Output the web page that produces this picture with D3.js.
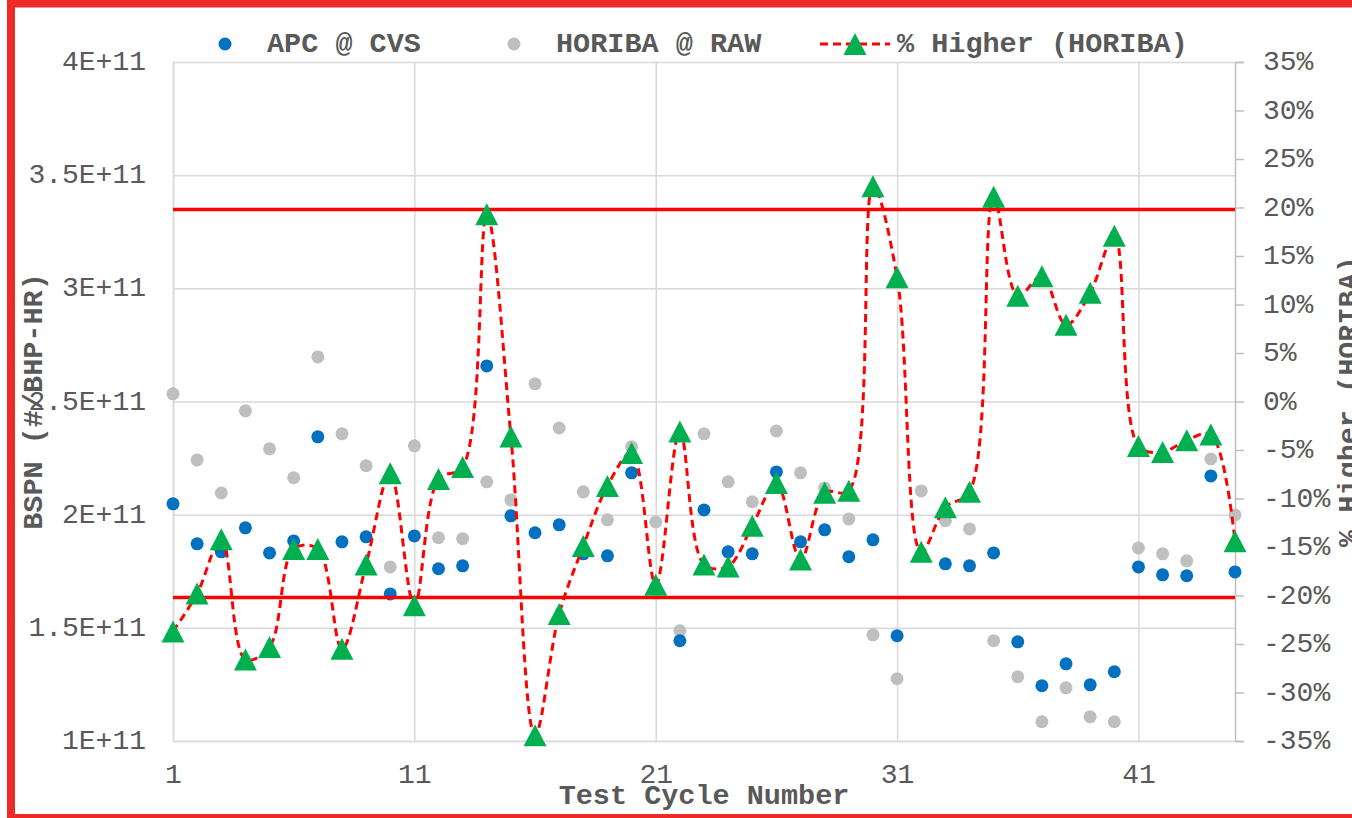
<!DOCTYPE html>
<html>
<head>
<meta charset="utf-8">
<script src="https://cdn.jsdelivr.net/npm/d3@7"></script>
<style>
  body { margin: 0; background: #fff; }
  svg { display: block; font-family: 'Liberation Mono', 'Courier New', monospace; }
  .tick text { fill: #595959; font-size: 28px; font-family: 'Liberation Mono', 'Courier New', monospace; }
  .title { fill: #595959; font-size: 28.5px; font-weight: bold; }
</style>
</head>
<body>
<svg width="1352" height="818"></svg>
<script>
const cycles = [1, 2, 3, 4, 5, 6, 7, 8, 9, 10, 11, 12, 13, 14, 15, 16, 17, 18, 19, 20, 21, 22, 23,
  24, 25, 26, 27, 28, 29, 30, 31, 32, 33, 34, 35, 36, 37, 38, 39, 40, 41, 42, 43, 44, 45];
// BSPN values, in units of 1E+11
const apcCvs = [2.048, 1.871, 1.836, 1.942, 1.831, 1.884, 2.344, 1.880, 1.902, 1.650, 1.906, 1.761,
  1.774, 2.657, 1.995, 1.920, 1.955, 1.827, 1.818, 2.185, 1.677, 1.443, 2.021, 1.836, 1.827, 2.189,
  1.880, 1.933, 1.814, 1.889, 1.465, 1.818, 1.783, 1.774, 1.831, 1.438, 1.244, 1.341, 1.248, 1.306,
  1.769, 1.734, 1.730, 2.171, 1.747];
const horibaRaw = [2.534, 2.242, 2.096, 2.459, 2.291, 2.163, 2.697, 2.357, 2.216, 1.769, 2.304, 1.898,
  1.894, 2.145, 2.065, 2.578, 2.383, 2.101, 1.977, 2.300, 1.968, 1.487, 2.357, 2.145, 2.057, 2.370,
  2.185, 2.118, 1.981, 1.469, 1.275, 2.105, 1.973, 1.937, 1.443, 1.284, 1.085, 1.235, 1.107, 1.085,
  1.853, 1.827, 1.796, 2.246, 1.999];
const pctHigher = [-23.7, -19.8, -14.2, -26.6, -25.3, -15.2, -15.2, -25.5, -16.8, -7.4, -21.0, -8.0,
  -6.75, 19.3, -3.6, -34.4, -21.9, -14.9, -8.7, -5.3, -18.9, -3.1, -16.8, -17.0, -12.8, -8.4, -16.3,
  -9.4, -9.2, 22.2, 12.8, -15.5, -10.9, -9.3, 21.1, 10.9, 12.9, 7.9, 11.2, 17.1, -4.6, -5.2, -4.0,
  -3.4, -14.4];
const limits = [19.8, -20.2];
const xTicks = [1, 11, 21, 31, 41];
const leftTicks = [1, 1.5, 2, 2.5, 3, 3.5, 4];
const rightTicks = [-35, -30, -25, -20, -15, -10, -5, 0, 5, 10, 15, 20, 25, 30, 35];

const m = { top: 62, right: 117, bottom: 77, left: 173 };
const W = 1352 - m.left - m.right;
const H = 818 - m.top - m.bottom;

const x = d3.scaleLinear().domain([1, 45]).range([0, W]);
const yL = d3.scaleLinear().domain([1, 4]).range([H, 0]);
const yR = d3.scaleLinear().domain([-35, 35]).range([H, 0]);

const svg = d3.select('svg');
const g = svg.append('g').attr('transform', `translate(${m.left},${m.top})`);

// grid
g.append('g')
  .call(d3.axisLeft(yL).tickValues(leftTicks).tickSize(-W).tickFormat(''))
  .call(s => s.select('.domain').remove())
  .selectAll('line').attr('stroke', '#d9d9d9').attr('stroke-width', 1.5);
g.append('g')
  .attr('transform', `translate(0,${H})`)
  .call(d3.axisBottom(x).tickValues(xTicks).tickSize(-H).tickFormat(''))
  .call(s => s.select('.domain').remove())
  .selectAll('line').attr('stroke', '#d9d9d9').attr('stroke-width', 1.5);

// axes
g.append('g')
  .call(d3.axisLeft(yL).tickValues(leftTicks).tickSize(0).tickPadding(27)
    .tickFormat(d => d + 'E+11'))
  .call(s => s.select('.domain').attr('stroke', '#d9d9d9').attr('stroke-width', 1.5))
  .selectAll('text').attr('dy', '0.27em');
g.append('g')
  .attr('transform', `translate(0,${H})`)
  .call(d3.axisBottom(x).tickValues(xTicks).tickSize(0).tickPadding(22))
  .call(s => s.select('.domain').attr('stroke', '#d9d9d9').attr('stroke-width', 1.5));
g.append('g')
  .attr('transform', `translate(${W},0)`)
  .call(d3.axisRight(yR).tickValues(rightTicks).tickSize(9).tickPadding(19)
    .tickFormat(d => d + '%'))
  .call(s => s.select('.domain').attr('stroke', '#bfbfbf').attr('stroke-width', 1.5))
  .call(s => s.selectAll('.tick line').attr('stroke', '#bfbfbf').attr('stroke-width', 1.5))
  .selectAll('text').attr('dy', '0.27em');
g.selectAll('.tick text').attr('fill', '#595959');

const tri = 'M0,-11L11.5,11L-11.5,11Z';

// scatter points
g.selectAll('.horiba').data(horibaRaw).enter().append('circle')
  .attr('cx', (d, i) => x(cycles[i])).attr('cy', d => yL(d)).attr('r', 6.5)
  .attr('fill', '#bfbfbf');
g.selectAll('.apc').data(apcCvs).enter().append('circle')
  .attr('cx', (d, i) => x(cycles[i])).attr('cy', d => yL(d)).attr('r', 6.5)
  .attr('fill', '#0070c0');

// limit lines
g.selectAll('.limit').data(limits).enter().append('line')
  .attr('x1', 0).attr('x2', W)
  .attr('y1', d => yR(d)).attr('y2', d => yR(d))
  .attr('stroke', '#ff0000').attr('stroke-width', 3.5);

// % higher line
const line = d3.line()
  .x((d, i) => x(cycles[i]))
  .y(d => yR(d))
  .curve(d3.curveCatmullRom.alpha(0.5));
g.append('path').datum(pctHigher)
  .attr('d', line)
  .attr('fill', 'none').attr('stroke', '#ff0000')
  .attr('stroke-width', 3).attr('stroke-dasharray', '8,5');
g.selectAll('.tri').data(pctHigher).enter().append('path')
  .attr('d', tri)
  .attr('transform', (d, i) => `translate(${x(cycles[i])},${yR(d)})`)
  .attr('fill', '#00b050');

// legend
const lg = svg.append('g');
lg.append('circle').attr('cx', 225).attr('cy', 44).attr('r', 6.5).attr('fill', '#0070c0');
lg.append('text').attr('class', 'title').attr('x', 267).attr('y', 52).text('APC @ CVS');
lg.append('circle').attr('cx', 514).attr('cy', 44).attr('r', 6.5).attr('fill', '#bfbfbf');
lg.append('text').attr('class', 'title').attr('x', 556).attr('y', 52).text('HORIBA @ RAW');
lg.append('line').attr('x1', 820).attr('x2', 890).attr('y1', 44).attr('y2', 44)
  .attr('stroke', '#ff0000').attr('stroke-width', 3).attr('stroke-dasharray', '8,5');
lg.append('path').attr('d', tri).attr('transform', 'translate(855,44)').attr('fill', '#00b050');
lg.append('text').attr('class', 'title').attr('x', 897).attr('y', 52).text('% Higher (HORIBA)');

// axis titles
svg.append('text').attr('class', 'title')
  .attr('transform', `translate(42,${m.top + H / 2}) rotate(-90)`)
  .attr('text-anchor', 'middle').text('BSPN (#/BHP-HR)');
svg.append('text').attr('class', 'title')
  .attr('transform', `translate(1357,${m.top + H / 2}) rotate(-90)`)
  .attr('text-anchor', 'middle').text('% Higher (HORIBA)');
svg.append('text').attr('class', 'title')
  .attr('x', m.left + W / 2).attr('y', 804)
  .attr('text-anchor', 'middle').text('Test Cycle Number');

// frame
svg.append('rect')
  .attr('x', 11).attr('y', 3.5).attr('width', 1380).attr('height', 814.5)
  .attr('fill', 'none').attr('stroke', '#ee2b27').attr('stroke-width', 8);
</script>
</body>
</html>
